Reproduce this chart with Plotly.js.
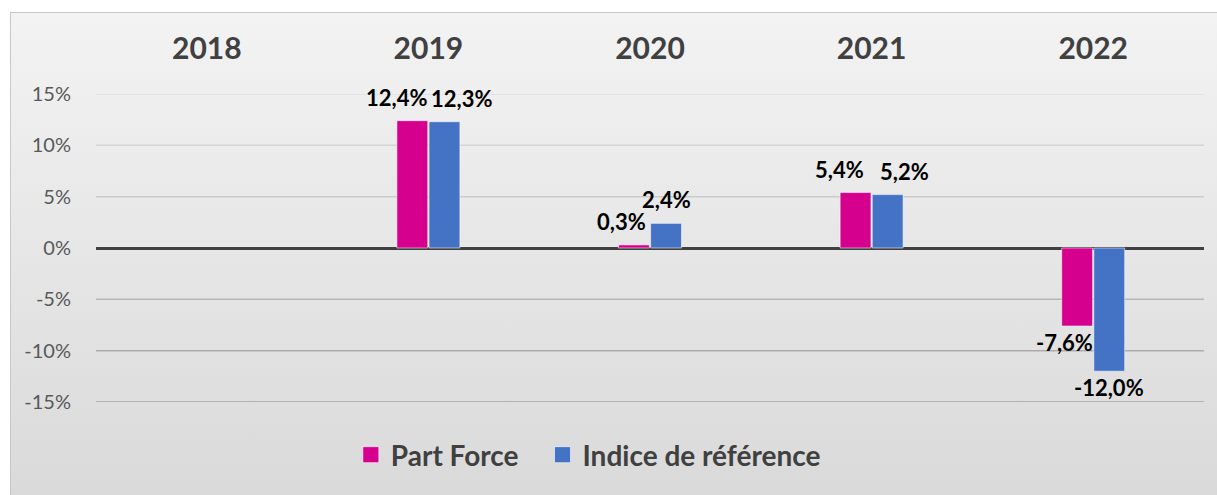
<!DOCTYPE html>
<html>
<head>
<meta charset="utf-8">
<script src="https://cdn.plot.ly/plotly-3.0.1.min.js"></script>
<style>
  html, body { margin: 0; padding: 0; background: #ffffff; width: 1217px; height: 495px; overflow: hidden; }
  #frame {
    position: absolute; left: 10px; top: 12px; width: 1212px; height: 492px;
    border: 1px solid #c8c8c8;
    background: linear-gradient(to bottom, #f3f3f3 0%, #d9d9d9 100%);
  }
  #chart { position: absolute; left: 0; top: 0; width: 1212px; height: 492px; }
</style>
</head>
<body>
<div id="frame"><div id="chart"></div></div>
<script>
const years = ['2018', '2019', '2020', '2021', '2022'];
const partForce = [null, 12.4, 0.3, 5.4, -7.6];
const indiceRef = [null, 12.3, 2.4, 5.2, -12.0];
const seriesNames = ['Part Force', 'Indice de référence'];
const tickValues = [-15, -10, -5, 0, 5, 10, 15];
const tickLabels = ['-15%', '-10%', '-5%', '0%', '5%', '10%', '15%'];

const colors = ['#d6008f', '#4472c4'];
const fontFam = 'Lato, "Open Sans", sans-serif';
const xIdx = years.map((_, i) => i);

function fmt(v) { return v.toFixed(1).replace('.', ',') + '%'; }

const traces = [];
[partForce, indiceRef].forEach((vals, i) => {
  traces.push({
    type: 'bar',
    name: seriesNames[i],
    x: xIdx,
    y: vals,
    showlegend: false,
    marker: { color: colors[i], line: { color: 'rgba(255,255,255,0.55)', width: 1 } },
    hoverinfo: 'skip'
  });
});
// legend entries with larger square markers (one legend box per series)
[0, 1].forEach(i => {
  traces.push({
    type: 'scatter', mode: 'markers', name: seriesNames[i],
    x: [null], y: [null], showlegend: true,
    legend: i === 0 ? 'legend' : 'legend2',
    marker: { symbol: 'square', size: 17, color: colors[i], line: { color: 'rgba(255,255,255,0.6)', width: 1 } },
    hoverinfo: 'skip'
  });
});

// data labels: offset from bar centre, pushed apart when the pair would collide
const annotations = [];
xIdx.forEach(j => {
  const a = partForce[j], b = indiceRef[j];
  if (a === null || b === null) return;
  const collide = Math.abs(a - b) < 1.8;
  const shifts = collide ? [-32, 33] : [-29, 16];
  [a, b].forEach((v, i) => {
    const pos = v >= 0;
    annotations.push({
      x: xIdx[j], y: v, xref: 'x', yref: 'y',
      text: fmt(v),
      showarrow: false,
      xshift: shifts[i],
      yanchor: pos ? 'bottom' : 'top',
      yshift: pos ? 8 : -1,
      font: { family: fontFam, size: 22, color: '#000000', weight: 'bold' }
    });
  });
});

// gridlines: fainter near the top, darker near the bottom (as in the reference)
const shapes = tickValues.filter(v => v !== 0).map(v => ({
  type: 'line', xref: 'paper', x0: 0, x1: 1, yref: 'y', y0: v, y1: v,
  layer: 'below',
  line: { color: 'rgba(0,0,0,' + (0.165 - 0.007 * v).toFixed(3) + ')', width: 1.5 }
}));

const legendFont = { family: fontFam, size: 28, color: '#404040', weight: 'bold' };

const layout = {
  width: 1212, height: 492,
  margin: { l: 85, r: 19, t: 81, b: 103, autoexpand: false },
  paper_bgcolor: 'rgba(0,0,0,0)',
  plot_bgcolor: 'rgba(0,0,0,0)',
  barmode: 'group',
  bargap: 0.71,
  bargroupgap: 0.04,
  showlegend: true,
  legend: {
    orientation: 'h', x: 0.23, xanchor: 'left', y: -0.172, yanchor: 'middle',
    font: legendFont, itemsizing: 'trace', bgcolor: 'rgba(0,0,0,0)'
  },
  legend2: {
    orientation: 'h', x: 0.403, xanchor: 'left', y: -0.172, yanchor: 'middle',
    font: legendFont, itemsizing: 'trace', bgcolor: 'rgba(0,0,0,0)'
  },
  xaxis: {
    type: 'linear', side: 'top', range: [-0.5, 4.5],
    tickvals: xIdx, ticktext: years,
    showgrid: false, showline: false, zeroline: false, ticks: 'outside', ticklen: 22, tickcolor: 'rgba(0,0,0,0)',
    tickfont: { family: fontFam, size: 30, color: '#404040', weight: 'bold' }
  },
  yaxis: {
    range: [-15, 15],
    tickvals: tickValues, ticktext: tickLabels,
    showgrid: false,
    zeroline: true, zerolinecolor: '#404040', zerolinewidth: 3,
    showline: false, ticks: 'outside', ticklen: 20, tickcolor: 'rgba(0,0,0,0)',
    tickfont: { family: fontFam, size: 20, color: '#595959' }
  },
  shapes: shapes,
  annotations: annotations
};

Plotly.newPlot('chart', traces, layout, { displayModeBar: false, staticPlot: true });
</script>
</body>
</html>
